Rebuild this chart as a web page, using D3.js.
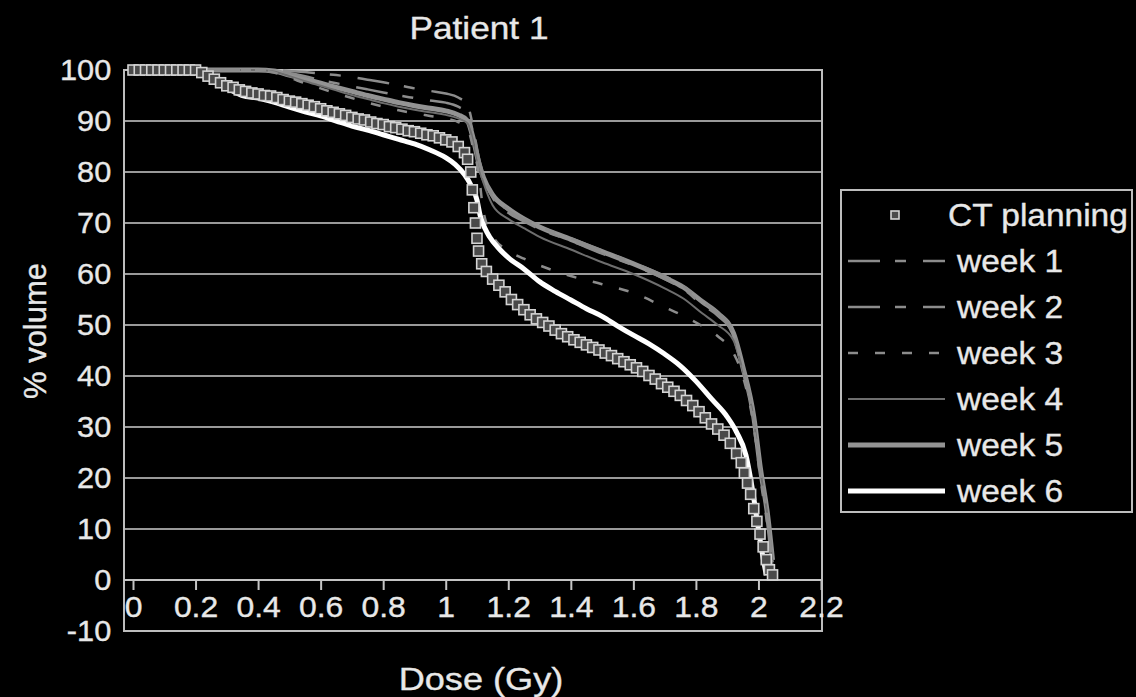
<!DOCTYPE html>
<html>
<head>
<meta charset="utf-8">
<script src="https://cdn.jsdelivr.net/npm/d3@7"></script>
<style>
  html, body { margin: 0; padding: 0; background: #000; }
  svg { display: block; }
  text { font-family: "Liberation Sans", Arial, sans-serif; fill: #e8e8e8; stroke: #e8e8e8; stroke-width: 0.35px; }
</style>
</head>
<body>
<svg id="chart" width="1136" height="697"></svg>
<script>
// Dose-volume histogram, patient 1: CT planning vs. weekly re-computations
const xTicks = [0, 0.2, 0.4, 0.6, 0.8, 1, 1.2, 1.4, 1.6, 1.8, 2, 2.2];
const yTicks = [-10, 0, 10, 20, 30, 40, 50, 60, 70, 80, 90, 100];

const ctDose = [0, 0.02, 0.04, 0.06, 0.08, 0.10, 0.12, 0.14, 0.16, 0.18, 0.20, 0.22, 0.24, 0.26, 0.28, 0.30,
  0.32, 0.34, 0.36, 0.38, 0.40, 0.42, 0.44, 0.46, 0.48, 0.50, 0.52, 0.54, 0.56, 0.58, 0.60, 0.62, 0.64, 0.66,
  0.68, 0.70, 0.72, 0.74, 0.76, 0.78, 0.80, 0.82, 0.84, 0.86, 0.88, 0.90, 0.92, 0.94, 0.96, 0.98, 1.00, 1.02,
  1.04, 1.06, 1.07, 1.08, 1.085, 1.09, 1.095, 1.10, 1.105, 1.115, 1.13, 1.15, 1.17, 1.19, 1.21, 1.23, 1.25,
  1.27, 1.29, 1.31, 1.33, 1.35, 1.37, 1.39, 1.41, 1.43, 1.45, 1.47, 1.49, 1.51, 1.53, 1.55, 1.57, 1.59, 1.61,
  1.63, 1.65, 1.67, 1.69, 1.71, 1.73, 1.75, 1.77, 1.79, 1.81, 1.83, 1.85, 1.87, 1.89, 1.91, 1.93, 1.945,
  1.955, 1.965, 1.975, 1.985, 1.995, 2.005, 2.015, 2.025, 2.035, 2.045];
const ctVolume = [100, 100, 100, 100, 100, 100, 100, 100, 100, 100, 100, 99.5, 98.8, 98.2, 97.5, 96.9,
  96.6, 96.1, 95.8, 95.5, 95.3, 95.0, 94.9, 94.6, 94.2, 93.9, 93.7, 93.4, 93.1, 92.8, 92.4, 92.0, 91.7, 91.4,
  91.1, 90.7, 90.4, 90.2, 89.8, 89.5, 89.3, 88.9, 88.7, 88.4, 88.1, 87.9, 87.6, 87.3, 87.1, 86.7, 86.3, 85.9,
  85.0, 83.8, 82.5, 80, 76.5, 73, 70, 67, 64.5, 62, 60.5, 59, 57.8, 56.5, 55, 54, 53,
  52, 51.2, 50.5, 49.8, 49, 48.3, 47.7, 47.1, 46.6, 46.1, 45.6, 45.1, 44.5, 44, 43.4, 42.8, 42.2, 41.6,
  40.9, 40.1, 39.4, 38.5, 37.8, 37, 36.2, 35.2, 34.2, 33, 31.8, 30.6, 29.6, 28.4, 26.8, 24.8, 23,
  21, 19, 16.8, 14, 11.5, 9, 6.5, 4, 2, 1];

// shared dose grid for weeks 1-5
const weekDose = [0, 0.2, 0.4, 0.45, 0.5, 0.55, 0.6, 0.65, 0.7, 0.75, 0.8, 0.85, 0.9, 0.95, 1.0, 1.04, 1.07,
  1.09, 1.105, 1.12, 1.15, 1.2, 1.25, 1.3, 1.4, 1.5, 1.6, 1.7, 1.76, 1.82, 1.87, 1.92, 1.95, 1.985, 2.006,
  2.03, 2.045];
const week1 = [100, 100, 100, 100, 99.8, 99.6, 99.3, 99, 98.6, 98.1, 97.6, 97, 96.4, 95.9, 95.4, 94.6, 93,
  88, 83, 79.5, 75.5, 72.5, 70.8, 69.3, 67, 64.6, 62.2, 59.6, 57.6, 54.6, 52.4, 48.6, 42, 32, 22, 12, 3.5];
const week2 = [100, 100, 100, 100, 99.4, 98.8, 98, 97.4, 96.8, 96.2, 95.6, 95, 94.5, 94, 93.6, 92.8, 91.5,
  87, 82.5, 79, 75, 72, 70.3, 68.8, 66.5, 64, 61.7, 59, 57, 54, 51.8, 48, 41.5, 31.5, 21.5, 11.5, 3];
const week3 = [100, 100, 100, 99.5, 98.5, 97.4, 96.4, 95.4, 94.5, 93.6, 92.8, 92.1, 91.5, 91, 90.5, 89.8, 88.5,
  84, 80, 72.5, 67.5, 64.6, 63, 61.7, 59.6, 58, 56.3, 53.5, 51.8, 49.8, 47.8, 44.5, 40, 30, 20, 10, 2];
const week4 = [100, 100, 100, 99.7, 98.8, 97.8, 96.9, 96, 95.1, 94.3, 93.5, 92.8, 92.2, 91.7, 91.2, 90.5, 89.5,
  85.5, 81, 78, 73.5, 70.8, 69, 67.3, 64.8, 62.3, 60, 57.2, 55.2, 52.3, 50, 47, 41, 31.5, 21.5, 12, 3];
const week5 = [100, 100, 100, 99.8, 99, 98.2, 97.4, 96.6, 95.8, 95, 94.3, 93.6, 93, 92.5, 92, 91.2, 90,
  86, 82, 79, 75.5, 72.8, 70.8, 69.2, 66.8, 64.4, 62, 59.3, 57.4, 54.6, 52.3, 48.4, 41.8, 32, 22, 12.4, 3.9];

const week6Dose = [0, 0.1, 0.2, 0.22, 0.25, 0.3, 0.35, 0.4, 0.45, 0.5, 0.55, 0.6, 0.65, 0.7, 0.75, 0.8, 0.85,
  0.9, 0.95, 1.0, 1.03, 1.06, 1.08, 1.1, 1.11, 1.125, 1.14, 1.17, 1.2, 1.25, 1.3, 1.35, 1.4, 1.45, 1.5, 1.55,
  1.6, 1.65, 1.7, 1.75, 1.8, 1.85, 1.9, 1.93, 1.96, 1.98, 1.995, 2.01, 2.025];
const week6 = [100, 100, 100, 99.6, 98.5, 96.5, 95, 94.5, 93.7, 92.7, 91.8, 91, 90, 89, 88.2, 87.3, 86.4,
  85.5, 84.3, 82.8, 81.5, 79.5, 77.5, 74.5, 71.5, 69, 67.3, 65, 63.2, 61, 58.5, 56.6, 54.9, 53.2, 51.7, 49.8,
  48, 46.3, 44.3, 42, 39, 35.5, 32, 29, 24.5, 18, 12, 6, 1];

const seriesNames = ["CT planning", "week 1", "week 2", "week 3", "week 4", "week 5", "week 6"];

const svg = d3.select("#chart");
const W = 1136, H = 697;
svg.append("rect").attr("width", W).attr("height", H).attr("fill", "#000");

const frame = { left: 124, right: 822, top: 70, bottom: 631 };
const x = d3.scaleLinear().domain([0, 2.2]).range([133, 821]);
const y = d3.scaleLinear().domain([-10, 100]).range([frame.bottom, frame.top]);

// horizontal gridlines
svg.append("g").selectAll("line")
  .data(yTicks.filter(v => v > 0 && v < 100))
  .join("line")
  .attr("x1", frame.left).attr("x2", frame.right)
  .attr("y1", d => y(d)).attr("y2", d => y(d))
  .attr("stroke", "#9a9a9a").attr("stroke-width", 2);

// plot frame
svg.append("rect")
  .attr("x", frame.left).attr("y", frame.top)
  .attr("width", frame.right - frame.left).attr("height", frame.bottom - frame.top)
  .attr("fill", "none").attr("stroke", "#bdbdbd").attr("stroke-width", 2);

const FONT = '"Liberation Sans", Arial, sans-serif';

// x axis along volume = 0
const xAxis = svg.append("g")
  .attr("transform", `translate(0,${y(0)})`)
  .call(d3.axisBottom(x).tickValues(xTicks).tickFormat(d => String(d)).tickSize(10).tickPadding(6));
xAxis.select(".domain").attr("stroke", "#c4c4c4").attr("stroke-width", 2)
  .attr("d", `M${frame.left},0H${frame.right}`);
xAxis.selectAll(".tick line").attr("stroke", "#c4c4c4").attr("stroke-width", 2);
xAxis.selectAll(".tick text").attr("fill", "#e8e8e8").style("font-size", "29px")
  .style("font-family", FONT).attr("transform", "scale(1.1,1)");

// y axis labels
const yAxis = svg.append("g")
  .attr("transform", `translate(${frame.left},0)`)
  .call(d3.axisLeft(y).tickValues(yTicks).tickFormat(d => String(d)).tickSize(0).tickPadding(12));
yAxis.select(".domain").remove();
yAxis.selectAll(".tick text").attr("fill", "#e8e8e8").style("font-size", "29px")
  .style("font-family", FONT).attr("transform", "scale(1.06,1)");

// curves
const line = d3.line().x(d => x(d[0])).y(d => y(d[1])).curve(d3.curveMonotoneX);
const zipSeries = (xs, ys) => xs.map((v, i) => [v, ys[i]]);

const styles = {
  "week 1": { stroke: "#8c8c8c", width: 2.5, dash: "32,15,11,17" },
  "week 2": { stroke: "#8c8c8c", width: 2.5, dash: "32,15,11,17" },
  "week 3": { stroke: "#8c8c8c", width: 2.5, dash: "10,17" },
  "week 4": { stroke: "#6e6e6e", width: 2, dash: null },
  "week 5": { stroke: "#939393", width: 5, dash: null },
  "week 6": { stroke: "#ffffff", width: 5, dash: null }
};

const curves = [
  ["week 5", zipSeries(weekDose, week5)],
  ["week 4", zipSeries(weekDose, week4)],
  ["week 3", zipSeries(weekDose, week3)],
  ["week 2", zipSeries(weekDose, week2)],
  ["week 1", zipSeries(weekDose, week1)],
  ["week 6", zipSeries(week6Dose, week6)]
];

svg.append("g").selectAll("path")
  .data(curves)
  .join("path")
  .attr("d", d => line(d[1]))
  .attr("fill", "none")
  .attr("stroke", d => styles[d[0]].stroke)
  .attr("stroke-width", d => styles[d[0]].width)
  .attr("stroke-dasharray", d => styles[d[0]].dash)
  .attr("stroke-linejoin", "round");

// CT planning markers
const sq = 10;
svg.append("g").selectAll("rect")
  .data(zipSeries(ctDose, ctVolume))
  .join("rect")
  .attr("x", d => x(d[0]) - sq / 2).attr("y", d => y(d[1]) - sq / 2)
  .attr("width", sq).attr("height", sq)
  .attr("fill", "#4a4a4a").attr("stroke", "#d4d4d4").attr("stroke-width", 1.6);

// titles (glyphs slightly widened)
function label(xp, yp, size, sx, txt, rotate) {
  const t = svg.append("text")
    .attr("transform", `translate(${xp},${yp})` + (rotate ? " rotate(-90)" : "") + ` scale(${sx},1)`)
    .attr("text-anchor", "middle")
    .style("font-size", size + "px").text(txt);
  return t;
}
label(479, 39, 32, 1.1, "Patient 1");
label(481, 690, 32, 1.13, "Dose (Gy)");
label(46, 331, 31, 1.0, "% volume", true);

// legend
const lg = svg.append("g");
lg.append("rect").attr("x", 841).attr("y", 190).attr("width", 291).attr("height", 322)
  .attr("fill", "#000").attr("stroke", "#bdbdbd").attr("stroke-width", 2);
const rowY = i => 215 + i * 46;
seriesNames.forEach((name, i) => {
  const cy = rowY(i);
  if (i === 0) {
    lg.append("rect").attr("x", 895 - 4).attr("y", cy - 4).attr("width", 8).attr("height", 8)
      .attr("fill", "#4a4a4a").attr("stroke", "#d4d4d4").attr("stroke-width", 1.6);
  } else {
    const s = styles[name];
    lg.append("line").attr("x1", 848).attr("x2", 945).attr("y1", cy).attr("y2", cy)
      .attr("stroke", s.stroke).attr("stroke-width", s.width)
      .attr("stroke-dasharray", s.dash);
  }
  lg.append("text")
    .attr("transform", `translate(${i === 0 ? 948 : 957},${cy}) scale(1.08,1)`)
    .attr("dy", "0.36em")
    .style("font-size", "31px").text(name);
});
</script>
</body>
</html>
